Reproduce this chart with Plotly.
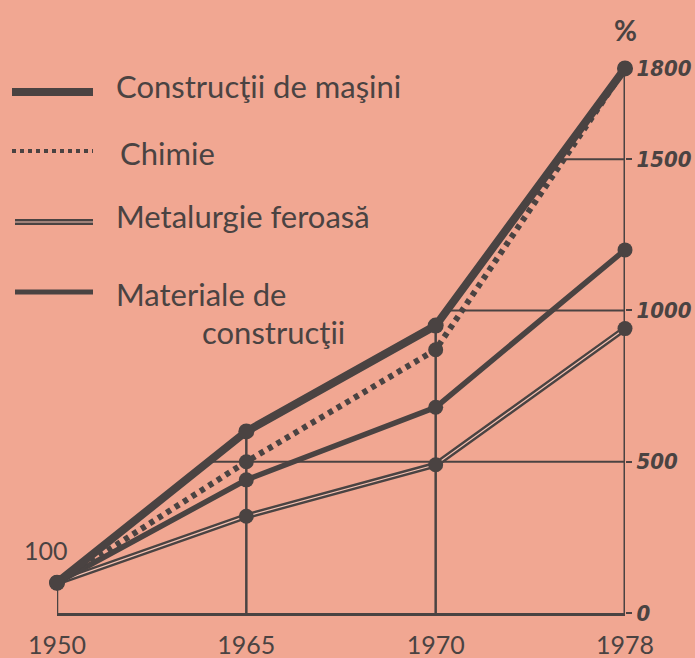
import numpy as np
import plotly.graph_objects as go

# ---------------- data ----------------
years = ["1950", "1965", "1970", "1978"]
constructii_masini = [100, 600, 950, 1800]
chimie = [100, 500, 870, 1800]
metalurgie_feroasa = [100, 320, 490, 940]
materiale_constructii = [100, 440, 680, 1200]
y_tick_values = [0, 500, 1000, 1500, 1800]
ref_levels = [500, 1000, 1500]
series_names = ["Construcţii de maşini", "Chimie", "Metalurgie feroasă",
                "Materiale de<br>construcţii"]

# ---------------- style ----------------
BG = "#F1A792"
DARK = "#4A4342"
LIGHT = "#F5C2B2"
FONT = "Lato"
W, H = 695, 658
ML, MR, MT, MB = 57, 70, 23, 45
Y_MAX = 1950

xi = list(range(len(years)))

fig = go.Figure()

# Metalurgie: double line (dark outer + light inner)
fig.add_trace(go.Scatter(x=xi, y=metalurgie_feroasa, mode="lines",
                         line=dict(color=DARK, width=6), cliponaxis=False,
                         showlegend=False, hoverinfo="skip"))
fig.add_trace(go.Scatter(x=xi, y=metalurgie_feroasa, mode="lines",
                         line=dict(color=LIGHT, width=1.2), cliponaxis=False,
                         showlegend=False, hoverinfo="skip"))
fig.add_trace(go.Scatter(x=xi, y=metalurgie_feroasa, mode="markers",
                         marker=dict(color=DARK, size=15), cliponaxis=False,
                         showlegend=False))
# Materiale de construcţii
fig.add_trace(go.Scatter(x=xi, y=materiale_constructii, mode="lines+markers",
                         line=dict(color=DARK, width=5.5),
                         marker=dict(color=DARK, size=15), cliponaxis=False,
                         showlegend=False))
# Chimie dotted
fig.add_trace(go.Scatter(x=xi, y=chimie, mode="lines+markers",
                         line=dict(color=DARK, width=6, dash="5px,5px"),
                         marker=dict(color=DARK, size=15), cliponaxis=False,
                         showlegend=False))
# Construcţii de maşini thick
fig.add_trace(go.Scatter(x=xi, y=constructii_masini, mode="lines+markers",
                         line=dict(color=DARK, width=8),
                         marker=dict(color=DARK, size=16), cliponaxis=False,
                         showlegend=False))

shapes = []
# vertical drop lines up to the highest value of each year
series_all = np.array([constructii_masini, chimie, metalurgie_feroasa, materiale_constructii])
top = series_all.max(axis=0)
for i, t in enumerate(top):
    shapes.append(dict(type="line", xref="x", yref="y", x0=i, x1=i, y0=0, y1=t,
                       line=dict(color=DARK, width=2.5 if i < 3 else 3), layer="below"))
# horizontal reference lines starting where the top curve crosses them
for lv in ref_levels:
    xs = float(np.interp(lv, top, xi))
    shapes.append(dict(type="line", xref="x", yref="y", x0=xs, x1=xi[-1], y0=lv, y1=lv,
                       line=dict(color=DARK, width=2), layer="below"))

# ---------------- manual legend (pixel -> paper) ----------------
PW = W - ML - MR
PH = H - MT - MB


def px(x):
    return (x - ML) / PW


def py(y):
    return (H - MB - y) / PH


leg_y = [92, 151, 222, 292]
LX0, LX1 = 12, 93
shapes.append(dict(type="line", xref="paper", yref="paper", x0=px(LX0), x1=px(LX1),
                   y0=py(leg_y[0]), y1=py(leg_y[0]), line=dict(color=DARK, width=8)))
shapes.append(dict(type="line", xref="paper", yref="paper", x0=px(LX0), x1=px(LX1),
                   y0=py(leg_y[1]), y1=py(leg_y[1]), line=dict(color=DARK, width=4, dash="4px,4px")))
shapes.append(dict(type="line", xref="paper", yref="paper", x0=px(LX0 + 3), x1=px(LX1),
                   y0=py(leg_y[2]), y1=py(leg_y[2]), line=dict(color=DARK, width=6)))
shapes.append(dict(type="line", xref="paper", yref="paper", x0=px(LX0 + 3), x1=px(LX1),
                   y0=py(leg_y[2]), y1=py(leg_y[2]), line=dict(color=LIGHT, width=1.2)))
shapes.append(dict(type="line", xref="paper", yref="paper", x0=px(LX0 + 3), x1=px(LX1),
                   y0=py(leg_y[3]), y1=py(leg_y[3]), line=dict(color=DARK, width=5)))

annotations = []
FS = 31
text_x = [114, 118, 114, 114]
text_y = [86, 153, 216, 294]
for name, tx, ty in zip(series_names[:3], text_x[:3], text_y[:3]):
    annotations.append(dict(xref="paper", yref="paper", x=px(tx), y=py(ty), text=name,
                            showarrow=False, xanchor="left", yanchor="middle",
                            font=dict(family=FONT, size=FS, color=DARK)))
first, second = series_names[3].split("<br>")
annotations.append(dict(xref="paper", yref="paper", x=px(text_x[3]), y=py(text_y[3]), text=first,
                        showarrow=False, xanchor="left", yanchor="middle",
                        font=dict(family=FONT, size=FS, color=DARK)))
annotations.append(dict(xref="paper", yref="paper", x=px(200), y=py(332), text=second,
                        showarrow=False, xanchor="left", yanchor="middle",
                        font=dict(family=FONT, size=FS, color=DARK)))
# "100" start label and "%" unit
annotations.append(dict(xref="paper", yref="paper", x=px(46), y=py(550), text=str(constructii_masini[0]),
                        showarrow=False, xanchor="center", yanchor="middle",
                        font=dict(family=FONT, size=25, color=DARK)))
annotations.append(dict(xref="paper", yref="paper", x=px(625), y=py(30), text="%",
                        showarrow=False, xanchor="center", yanchor="middle",
                        font=dict(family=FONT, size=28, color=DARK, weight="bold")))

fig.update_layout(
    width=W, height=H,
    margin=dict(l=ML, r=MR, t=MT, b=MB, autoexpand=False),
    paper_bgcolor=BG, plot_bgcolor=BG,
    showlegend=False,
    shapes=shapes,
    annotations=annotations,
    xaxis=dict(range=[0, len(years) - 1], tickvals=xi, ticktext=years, automargin=False,
               showgrid=False, zeroline=False, showline=True, linecolor=DARK, linewidth=3,
               ticks="", ticklabelstandoff=8,
               tickfont=dict(family=FONT, size=25, color=DARK)),
    yaxis=dict(range=[0, Y_MAX], side="right", tickvals=y_tick_values, automargin=False,
               ticktext=[str(v) for v in y_tick_values],
               showgrid=False, zeroline=False, showline=False,
               ticks="outside", ticklen=6, tickwidth=2, tickcolor=DARK,
               tickfont=dict(family="DejaVu Sans Condensed, DejaVu Sans", size=22, color=DARK,
                             style="italic", weight="bold")),
)

fig.write_html("out.html", config={"displayModeBar": False},
               post_script="document.body.style.margin='0';document.body.style.background='%s';" % BG)
